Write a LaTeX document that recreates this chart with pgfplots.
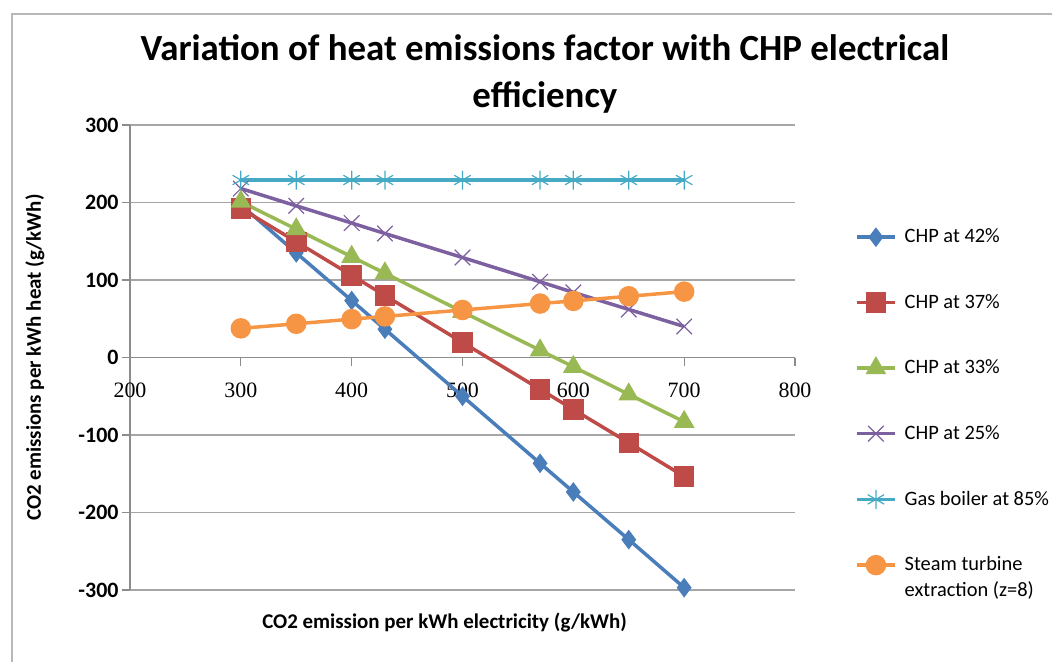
\documentclass[border=0pt]{standalone}
\usepackage{pgfplots}
\pgfplotsset{compat=1.18}
\usepackage{fontspec}
\setmainfont{Carlito}
\newfontfamily\serifx{Liberation Serif}
\definecolor{cblue}{HTML}{4A7EBB}
\definecolor{cred}{HTML}{BE4B48}
\definecolor{cgreen}{HTML}{98B954}
\definecolor{cpurple}{HTML}{7D60A0}
\definecolor{ccyan}{HTML}{46AAC5}
\definecolor{corange}{HTML}{F69544}
\definecolor{axgray}{HTML}{8C8C8C}
\definecolor{gridgray}{HTML}{A6A6A6}
\begin{document}
\begin{tikzpicture}
\path[use as bounding box] (0bp,0bp) rectangle (1052bp,662bp);
\draw[color=gridgray!80, line width=1.5bp] (12bp,-5bp) -- (12bp,648bp) -- (1060bp,648bp);
\begin{axis}[
  at={(130bp,72bp)}, anchor=south west,
  scale only axis, width=665bp, height=465bp,
  xmin=200, xmax=800, ymin=-300, ymax=300,
  xtick={200,300,...,800}, ytick={-300,-200,...,300},
  axis x line*=middle, axis y line*=left,
  hide obscured x ticks=false, hide obscured y ticks=false,
  axis line style={color=axgray, line width=1.5bp},
  tick style={color=axgray, line width=1.3bp},
  major tick length=8bp,
  tick align=outside,
  ymajorgrids,
  major grid style={color=gridgray, line width=1.3bp},
  /pgf/number format/assume math mode=true,
  yticklabel style={font=\bfseries\fontsize{22}{24}\selectfont, xshift=0bp},
  xticklabel style={font=\serifx\fontsize{22}{24}\selectfont, yshift=-14bp},
  title={Variation of heat emissions factor with CHP electrical\\efficiency},
  title style={at={(axis description cs:0.624,1.097)}, anchor=center, align=center,
    font=\bfseries\fontsize{37}{47}\selectfont},
  xlabel={CO2 emission per kWh electricity (g/kWh)},
  xlabel style={at={(axis description cs:0.473,-0.069)}, anchor=center,
    font=\bfseries\fontsize{21}{24}\selectfont},
  ylabel={CO2 emissions per kWh heat (g/kWh)},
  ylabel style={at={(axis description cs:-0.143,0.5)}, anchor=center, rotate=0,
    font=\bfseries\fontsize{21}{24}\selectfont},
  legend image code/.code={\draw[mark repeat=2,mark phase=2,#1] plot coordinates {(0bp,0bp) (19bp,0bp) (38bp,0bp)};},
  legend style={at={(axis description cs:1.0902,0.779)}, anchor=north west,
    draw=none, fill=none, inner sep=0pt, row sep=47bp, column sep=6bp,
    font=\fontsize{20.5}{24}\selectfont,
    cells={anchor=west, inner sep=0pt, text height=13bp, text depth=5bp}},
  every axis plot/.append style={line width=3.5bp},
  clip=false,
]
\addplot[color=cblue, mark=diamond*, mark size=7bp, mark options={solid}] coordinates {
 (300,197) (350,135) (400,73.5) (430,36.5) (500,-50) (570,-136.5) (600,-173.5) (650,-235) (700,-297)};
\addlegendentry{CHP at 42\%}
\addplot[color=cred, mark=square*, mark size=8.5bp] coordinates {
 (300,192.5) (350,149.3) (400,106) (430,80) (500,19.5) (570,-41) (600,-67) (650,-110) (700,-153.5)};
\addlegendentry{CHP at 37\%}
\addplot[color=cgreen, mark=triangle*, mark size=8.5bp] coordinates {
 (300,201) (350,165.5) (400,130) (430,108.7) (500,59) (570,9.3) (600,-12) (650,-47.5) (700,-83)};
\addlegendentry{CHP at 33\%}
\addplot[color=cpurple, mark=x, mark size=11bp, mark options={line width=1.2bp}] coordinates {
 (300,218) (350,195.7) (400,173.5) (430,160) (500,129) (570,97.7) (600,84) (650,62) (700,40)};
\addlegendentry{CHP at 25\%}
\addplot[color=ccyan, mark=asterisk, mark size=9.5bp, mark options={line width=1.2bp}] coordinates {
 (300,229) (350,229) (400,229) (430,229) (500,229) (570,229) (600,229) (650,229) (700,229)};
\addlegendentry{Gas boiler at 85\%}
\addplot[color=corange, mark=*, mark size=8.5bp] coordinates {
 (300,37.6) (350,43.5) (400,49.5) (430,53) (500,61.3) (570,69.6) (600,73) (650,79) (700,85)};
\addlegendentry{\begin{tabular}[t]{@{}l@{}}Steam turbine\\[2bp]extraction (z=8)\end{tabular}}
\end{axis}
\end{tikzpicture}
\end{document}
